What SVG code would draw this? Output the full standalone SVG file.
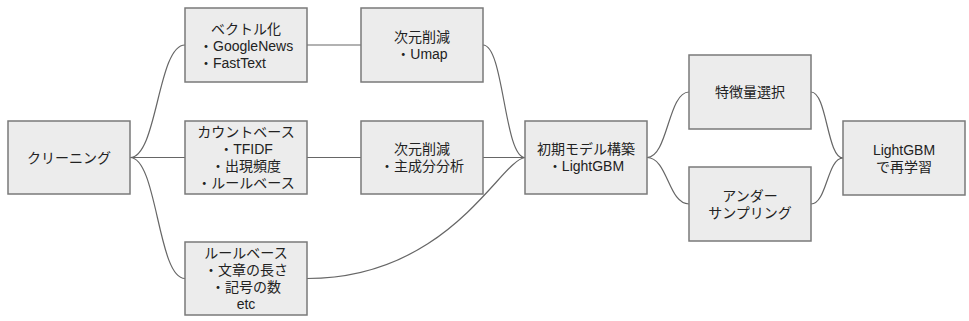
<svg xmlns="http://www.w3.org/2000/svg" width="969" height="321" viewBox="0 0 969 321">
<style>
.box{fill:#ececec;stroke:#7a7a7a;stroke-width:1.5}
text{font-family:"Liberation Sans","Noto Sans CJK JP",Arial,sans-serif;font-size:14px;fill:#222;text-anchor:middle}
.l{text-anchor:start}
.c{fill:none;stroke:#666;stroke-width:1.2}
</style>
<rect width="969" height="321" fill="#fff"/>
<g id="connectors">
<path class="c" d="M130,157.5 C157.5,157.5 157.5,45 185,45"/>
<path class="c" d="M130,157.5 H185"/>
<path class="c" d="M130,157.5 C157.5,157.5 157.5,278.5 185,278.5"/>
<path class="c" d="M307,45 H361"/>
<path class="c" d="M307,157.5 H361"/>
<path class="c" d="M483,157.5 H525"/>
<path class="c" d="M483,45 C504,45 504,157.5 525,157.5"/>
<path class="c" d="M307,278.5 C450,278.5 500,160 525,157.5"/>
<path class="c" d="M647,157.5 C668,157.5 668,92 689,92"/>
<path class="c" d="M647,157.5 C668,157.5 668,204 689,204"/>
<path class="c" d="M811,92 C827,92 827,158 843,158"/>
<path class="c" d="M811,204 C827,204 827,158 843,158"/>
</g>
<g id="cleaning">
<rect class="box" x="8" y="121" width="122" height="73"/>
<text x="69" y="163">クリーニング</text>
</g>
<g id="vectorize">
<rect class="box" x="185" y="8" width="122" height="74"/>
<text x="246" y="34">ベクトル化</text>
<text class="l" x="199" y="51">・GoogleNews</text>
<text class="l" x="199" y="68">・FastText</text>
</g>
<g id="countbase">
<rect class="box" x="185" y="121" width="122" height="73"/>
<text x="246" y="137">カウントベース</text>
<text x="246" y="154">・TFIDF</text>
<text x="246" y="171">・出現頻度</text>
<text x="246" y="188">・ルールベース</text>
</g>
<g id="rulebase">
<rect class="box" x="185" y="242" width="122" height="73"/>
<text x="246" y="258">ルールベース</text>
<text x="246" y="275">・文章の長さ</text>
<text x="246" y="292">・記号の数</text>
<text x="246" y="309">etc</text>
</g>
<g id="umap">
<rect class="box" x="361" y="8" width="122" height="74"/>
<text x="422" y="42">次元削減</text>
<text x="422" y="59">・Umap</text>
</g>
<g id="pca">
<rect class="box" x="361" y="121" width="122" height="73"/>
<text x="422" y="154">次元削減</text>
<text x="422" y="171">・主成分分析</text>
</g>
<g id="initial">
<rect class="box" x="525" y="121" width="122" height="73"/>
<text x="586" y="154">初期モデル構築</text>
<text x="586" y="171">・LightGBM</text>
</g>
<g id="feature">
<rect class="box" x="689" y="55" width="122" height="74"/>
<text x="750" y="97">特徴量選択</text>
</g>
<g id="under">
<rect class="box" x="689" y="167" width="122" height="74"/>
<text x="750" y="201">アンダー</text>
<text x="750" y="218">サンプリング</text>
</g>
<g id="retrain">
<rect class="box" x="843" y="121" width="122" height="74"/>
<text x="904" y="155">LightGBM</text>
<text x="904" y="172">で再学習</text>
</g>
</svg>
